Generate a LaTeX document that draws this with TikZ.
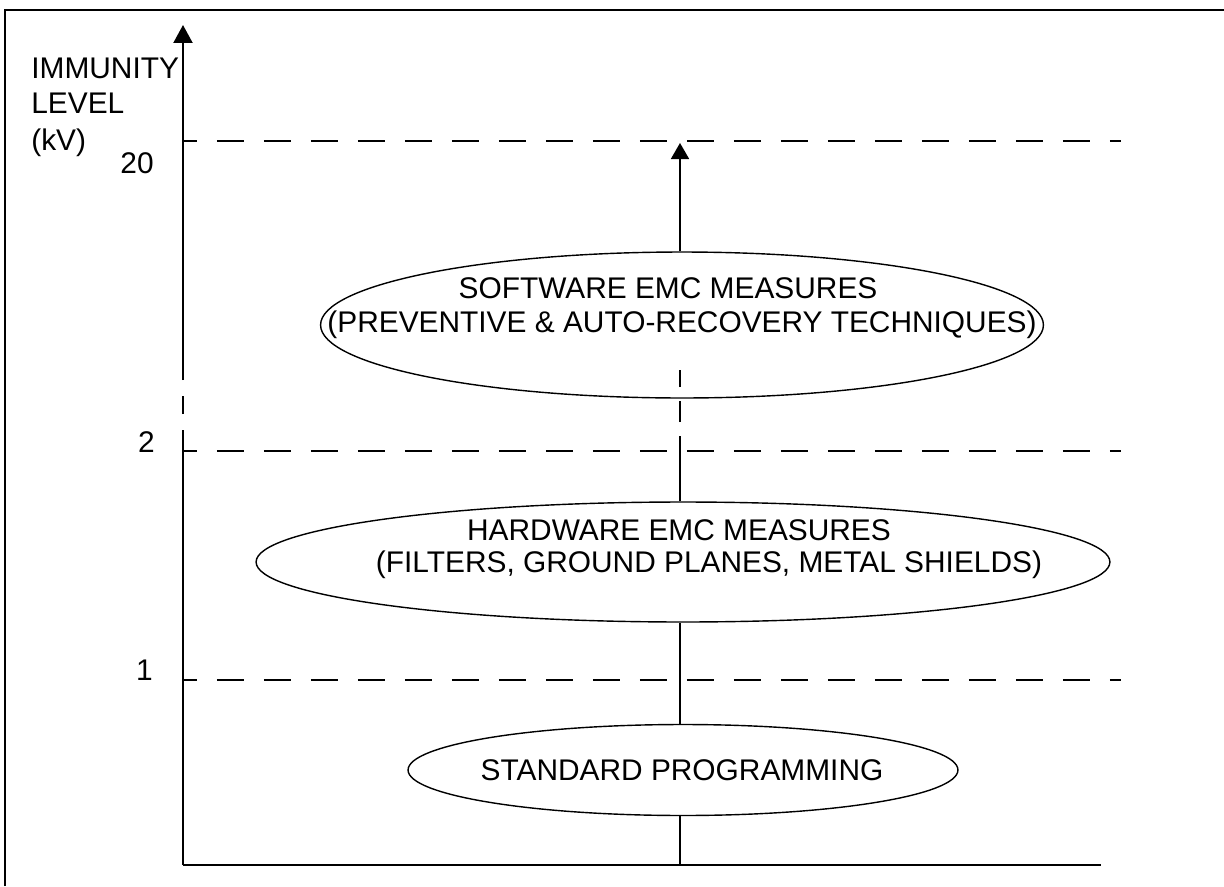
\documentclass[tikz,border=0pt]{standalone}
\usepackage{fontspec}
\setmainfont{Liberation Sans}
\usetikzlibrary{shapes.geometric,arrows.meta}

\begin{document}
\begin{tikzpicture}[x=0.02cm,y=-0.02cm,
	oval/.style={draw,ellipse,inner sep=0,line width=0.8pt},
	lbl/.style={inner sep=0,anchor=base,font=\fontsize{17}{20}\selectfont},
	axis/.style={line width=1.2pt},
	level/.style={line width=1.1pt,dash pattern=on 0.54cm off 0.4cm,dash phase=0.26cm},
	stem/.style={line width=0.6pt}]
	\useasboundingbox (0,0) rectangle (1224,886);
	% frame
	\draw[line width=1.3pt] (5,886) -- (5,10) -- (1224,10);
	% axes
	\coordinate (o) at (183,865);
	\coordinate (xend) at (1101,865);
	\coordinate (ya) at (183,448);
	\coordinate (yb) at (183,363);
	\coordinate (ytop) at (183,25);
	\draw[line width=1.5pt] (o) -- (xend);
	\draw[axis] (o) -- (ya);
	\draw[axis,dash pattern=on 0.36cm off 0.32cm] (ya) -- (yb);
	\draw[axis,-{Triangle[length=0.36cm,width=0.38cm]}] (yb) -- (ytop);
	\node[lbl,anchor=base west] (imm) at (31,78) {IMMUNITY};
	\node[lbl,anchor=base west] (lev) at (31,113) {LEVEL};
	\node[lbl,anchor=base west] (kv) at (31,150) {(kV)};
	% levels
	\coordinate (l20) at (183,141);
	\coordinate (l2) at (183,451);
	\coordinate (l1) at (183,680);
	\draw[level] (l20) -- (1121,141);
	\draw[level] (l2) -- (1121,451);
	\draw[level] (l1) -- (1121,680);
	\node[lbl,anchor=base east] (n20) at (154,173) {20};
	\node[lbl,anchor=base east] (n2) at (155,452) {2};
	\node[lbl,anchor=base east] (n1) at (153,680) {1};
	% measures
	\node[oval,minimum width=11cm,minimum height=1.82cm] (std) at (683,770) {};
	\node[oval,minimum width=17.08cm,minimum height=2.4cm] (hw) at (683,562) {};
	\node[oval,minimum width=14.46cm,minimum height=2.92cm] (sw) at (682,325) {};
	\node[lbl] (stdtxt) at (682,780) {STANDARD PROGRAMMING};
	\node[lbl] (hw1) at (679,540) {HARDWARE EMC MEASURES};
	\node[lbl] (hw2) at (709,572) {(FILTERS, GROUND PLANES, METAL SHIELDS)};
	\node[lbl] (sw1) at (668,298) {SOFTWARE EMC MEASURES};
	\node[lbl] (sw2) at (682,332) {(PREVENTIVE \& AUTO-RECOVERY TECHNIQUES)};
	% stem
	\coordinate (s0) at (680,865);
	\coordinate (s1) at (680,457);
	\coordinate (s2) at (680,370);
	\coordinate (s20) at (680,143);
	\draw[stem] (s0) -- (s0 |- std.south);
	\draw[stem] (s0 |- std.north) -- (s0 |- hw.south);
	\draw[stem] (s0 |- hw.north) -- (s1);
	\draw[line width=1pt,dash pattern=on 0.42cm off 0.28cm] (s1) -- (s2);
	\draw[line width=1pt,-{Triangle[length=0.32cm,width=0.36cm]}] (s20 |- sw.north) -- (s20);
\end{tikzpicture}
\end{document}
